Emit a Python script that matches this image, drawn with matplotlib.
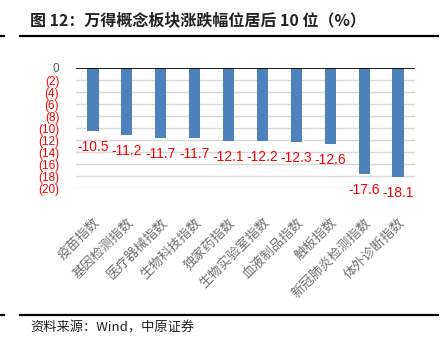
import matplotlib.pyplot as plt
from matplotlib.lines import Line2D

plt.rcParams['font.family'] = ['Noto Sans CJK SC', 'DejaVu Sans']

# 数据
categories = ['疫苗指数', '基因检测指数', '医疗器械指数', '生物科技指数', '独家药指数',
              '生物实验室指数', '血液制品指数', '触板指数', '新冠肺炎检测指数', '体外诊断指数']
values = [-10.5, -11.2, -11.7, -11.7, -12.1, -12.2, -12.3, -12.6, -17.6, -18.1]
yticks = [0, -2, -4, -6, -8, -10, -12, -14, -16, -18, -20]

fig = plt.figure(figsize=(4.47, 3.51), dpi=100)
ax = fig.add_axes([76/447, 1-188/351, (415-76)/447, (188-68)/351])

x = range(len(categories))
ax.bar(x, values, width=0.33, color='#4f81bd', zorder=3)
for i, v in enumerate(values):
    ax.text(i, v - 1.5, f'{v:.1f}', color='red', fontsize=10,
            ha='center', va='top', family=['Liberation Sans'])

ax.set_xlim(-0.5, len(categories) - 0.5)
ax.set_ylim(-20, 0)
ax.set_yticks(yticks)
ax.set_yticklabels(['0' if t == 0 else f'({-t})' for t in yticks], fontsize=8.5,
                   family=['Liberation Sans'])
for lab in ax.get_yticklabels():
    lab.set_color('#595959' if lab.get_text() == '0' else 'red')
ax.yaxis.grid(True, color='#d9d9d9', linewidth=1, zorder=0)
ax.axhline(0, color='black', linewidth=1.2, zorder=4)

ax.set_xticks(list(x))
ax.set_xticklabels(categories, rotation=45, ha='right', rotation_mode='anchor',
                   fontsize=9.5, color='#707070', fontweight='light')
ax.tick_params(axis='x', length=0, pad=20)
ax.tick_params(axis='y', length=0, pad=12)
for s in ax.spines.values():
    s.set_visible(False)

# 标题与来源
fig.text(30/447, 1-20/351, '图 12：万得概念板块涨跌幅位居后 10 位（%）',
         fontsize=11.5, fontweight='bold', va='center', color='#222222')
fig.add_artist(Line2D([20/447, 438/447], [1-36/351, 1-36/351], color='black', linewidth=1.6))
fig.add_artist(Line2D([0, 4/447], [1-36/351, 1-36/351], color='black', linewidth=1.6))
fig.add_artist(Line2D([20/447, 438/447], [1-315/351, 1-315/351], color='black', linewidth=1.6))
fig.add_artist(Line2D([0, 4/447], [1-315/351, 1-315/351], color='black', linewidth=1.6))
fig.text(30/447, 1-328/351, '资料来源：Wind，中原证券', fontsize=9.5, va='center', color='#222222')

fig.savefig('out.png', dpi=100)
